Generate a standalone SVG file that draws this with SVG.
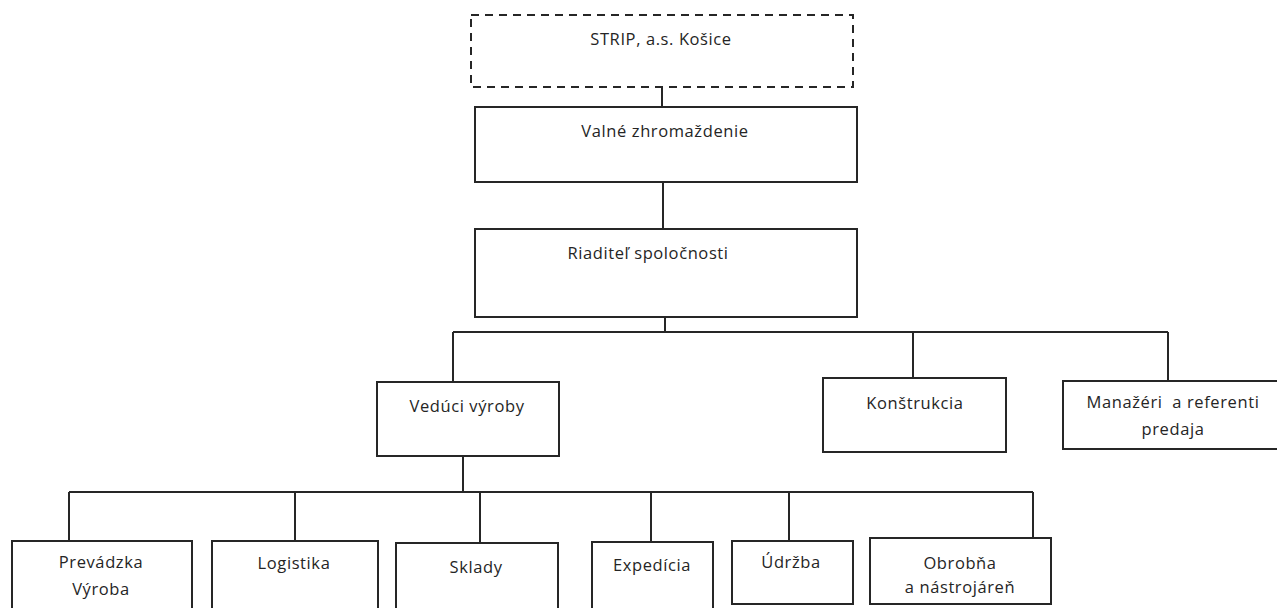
<svg xmlns="http://www.w3.org/2000/svg" width="1277" height="608" viewBox="0 0 1277 608">
<style>
.box{fill:#fff;stroke:#262626;stroke-width:2}
.dash{fill:#fff;stroke:#262626;stroke-width:2;stroke-dasharray:8 6}
.ln{fill:none;stroke:#262626;stroke-width:2}
text{font-family:"Open Sans","Liberation Sans",sans-serif;font-size:16.5px;fill:#252525;text-anchor:middle;letter-spacing:0.6px}
</style>
<rect width="1277" height="608" fill="#fff"/>
<g id="connectors">
<path class="ln" d="M662 87V107"/>
<path class="ln" d="M663 182V229"/>
<path class="ln" d="M665 317V332"/>
<path class="ln" d="M453 332H1168"/>
<path class="ln" d="M453 332V382"/>
<path class="ln" d="M913 332V378"/>
<path class="ln" d="M1168 332V381"/>
<path class="ln" d="M463 456V492"/>
<path class="ln" d="M69 492H1033"/>
<path class="ln" d="M69 492V541"/>
<path class="ln" d="M295 492V541"/>
<path class="ln" d="M480 492V543"/>
<path class="ln" d="M651 492V542"/>
<path class="ln" d="M789 492V541"/>
<path class="ln" d="M1033 492V538"/>
</g>
<g id="strip"><rect class="dash" x="471" y="15" width="382" height="72"/><text x="661" y="45">STRIP, a.s. Košice</text></g>
<g id="valne"><rect class="box" x="475" y="107" width="382" height="75"/><text x="665" y="137">Valné zhromaždenie</text></g>
<g id="riaditel"><rect class="box" x="475" y="229" width="382" height="88"/><text x="648" y="259">Riaditeľ spoločnosti</text></g>
<g id="veduci"><rect class="box" x="377" y="382" width="182" height="74"/><text x="467" y="412">Vedúci výroby</text></g>
<g id="konstrukcia"><rect class="box" x="823" y="378" width="183" height="74"/><text x="915" y="409">Konštrukcia</text></g>
<g id="manazeri"><rect class="box" x="1063" y="381" width="220" height="68"/><text x="1173" y="408" xml:space="preserve">Manažéri  a referenti</text><text x="1173" y="435">predaja</text></g>
<g id="prevadzka"><rect class="box" x="12" y="541" width="180" height="75"/><text x="101" y="568">Prevádzka</text><text x="101" y="595">Výroba</text></g>
<g id="logistika"><rect class="box" x="212" y="541" width="166" height="75"/><text x="294" y="569">Logistika</text></g>
<g id="sklady"><rect class="box" x="396" y="543" width="162" height="75"/><text x="476" y="573">Sklady</text></g>
<g id="expedicia"><rect class="box" x="592" y="542" width="121" height="75"/><text x="652" y="571">Expedícia</text></g>
<g id="udrzba"><rect class="box" x="732" y="541" width="121" height="63"/><text x="791" y="568">Údržba</text></g>
<g id="obrobna"><rect class="box" x="870" y="538" width="181" height="66"/><text x="960" y="569">Obrobňa</text><text x="960" y="593">a nástrojáreň</text></g>
</svg>
